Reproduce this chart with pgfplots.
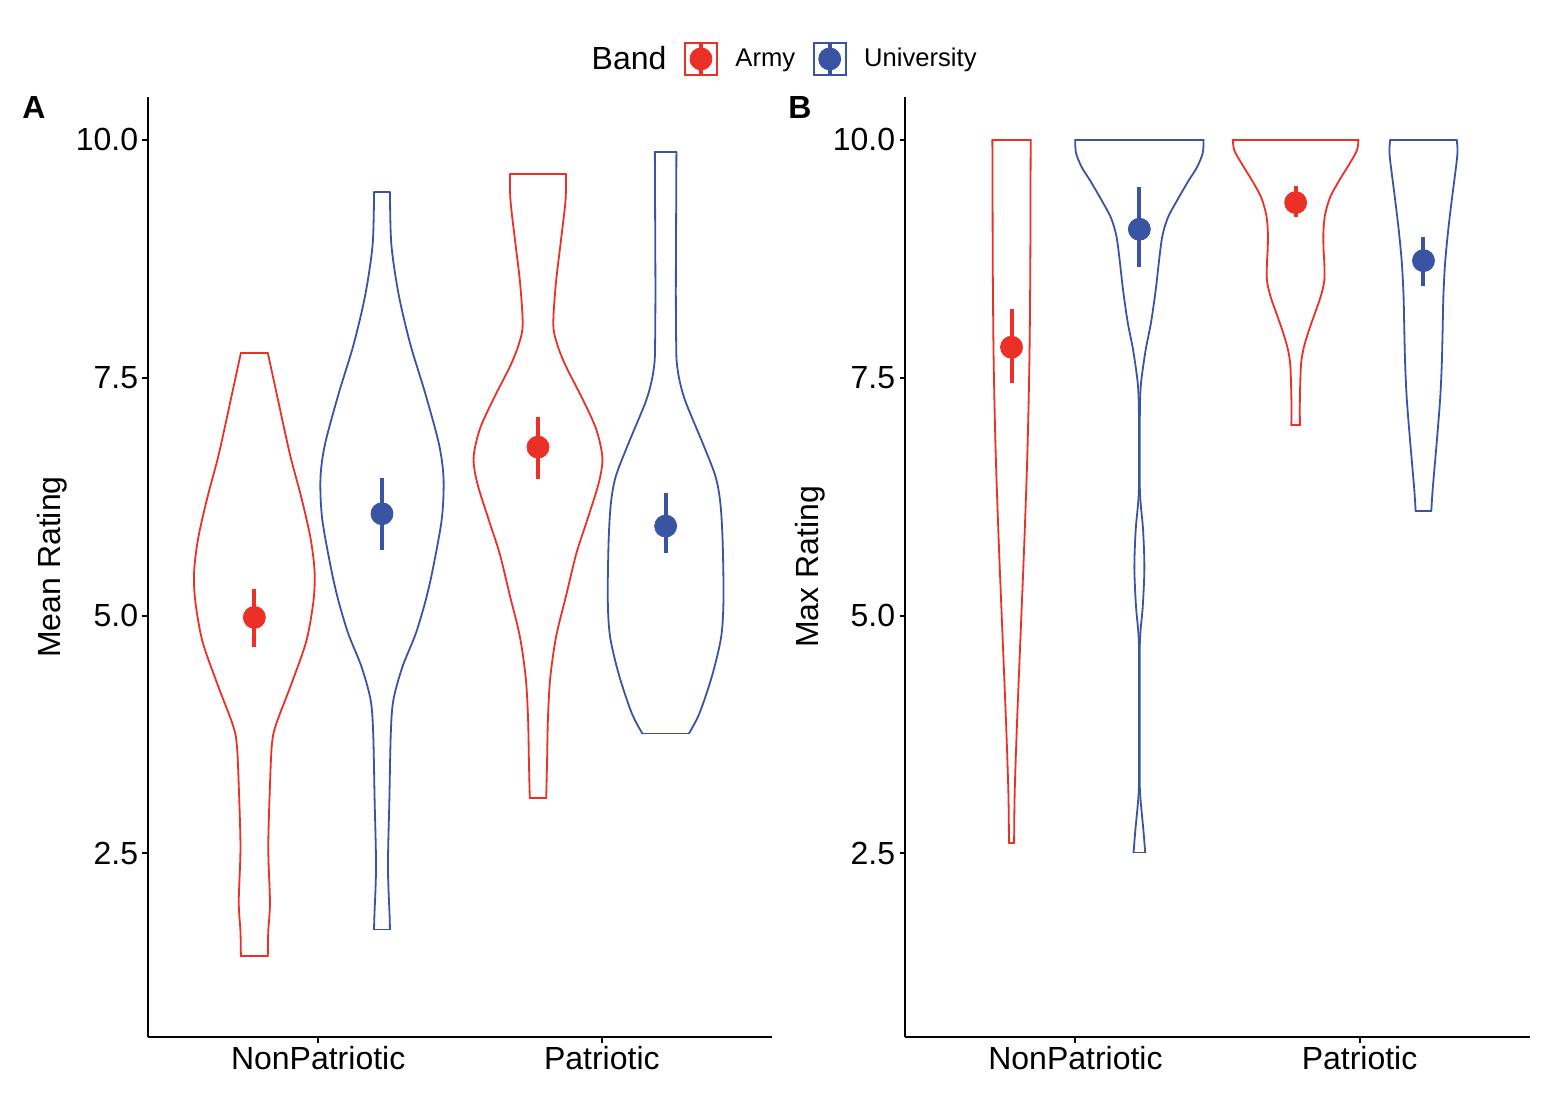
\documentclass[border=0pt]{standalone}
\usepackage{fontspec}
\setmainfont{Liberation Sans}
\usepackage{pgfplots}
\usepackage{pgfplotstable}
\pgfplotsset{compat=1.18}
\definecolor{armyred}{RGB}{235,49,39}
\definecolor{univblue}{RGB}{58,84,164}

% violin outlines: y and half-width w (axis units)
\pgfplotstableread{
y w
1.42 0.0475
1.68 0.049
1.99 0.055
2.56 0.049
3.21 0.055
3.65 0.062
3.86 0.077
4.30 0.133
4.74 0.184
5.17 0.209
5.48 0.212
5.83 0.197
6.26 0.164
6.70 0.125
7.354 0.077
7.76 0.0475
}\vAan
\pgfplotstableread{
y w
1.70 0.028
1.83 0.027
2.36 0.021
3.06 0.026
3.76 0.031
4.11 0.040
4.46 0.072
4.81 0.119
5.16 0.154
5.50 0.180
6.02 0.211
6.44 0.217
6.80 0.201
7.33 0.153
7.85 0.100
8.37 0.059
8.90 0.033
9.45 0.028
}\vAun
\pgfplotstableread{
y w
3.08 0.029
3.47 0.032
3.91 0.035
4.34 0.043
4.78 0.064
5.22 0.100
5.65 0.135
6.00 0.173
6.39 0.214
6.66 0.227
6.96 0.205
7.27 0.158
7.61 0.100
7.83 0.070
8.05 0.054
8.49 0.063
8.92 0.080
9.36 0.097
9.64 0.0986
}\vAap
\pgfplotstableread{
y w
3.76 0.082
3.97 0.119
4.37 0.164
4.78 0.196
5.18 0.204
5.78 0.201
6.18 0.193
6.46 0.176
6.78 0.135
7.18 0.079
7.34 0.060
7.50 0.047
7.64 0.040
7.78 0.0375
8.38 0.036
9.18 0.037
9.87 0.038
}\vAup
\pgfplotstableread{
y w
2.61 0.009
3.125 0.011
3.85 0.019
4.81 0.032
5.77 0.045
6.73 0.056
7.69 0.063
8.65 0.066
9.62 0.067
10.0 0.0675
}\vBan
\pgfplotstableread{
y w
2.51 0.0205
2.75 0.014
3.00 0.006
3.20 0.0015
3.60 0.0015
4.20 0.0015
4.74 0.002
5.10 0.012
5.50 0.0176
5.90 0.013
6.29 0.002
6.80 0.0015
7.20 0.002
7.45 0.006
7.79 0.022
8.08 0.041
8.41 0.057
8.75 0.070
8.99 0.081
9.18 0.100
9.375 0.135
9.57 0.173
9.71 0.2025
9.86 0.223
10.0 0.226
}\vBun
\pgfplotstableread{
y w
7.00 0.015
7.29 0.015
7.64 0.019
7.82 0.029
8.00 0.047
8.17 0.067
8.35 0.088
8.52 0.101
8.70 0.101
8.87 0.098
9.05 0.098
9.22 0.104
9.40 0.122
9.57 0.153
9.75 0.190
9.89 0.216
10.0 0.221
}\vBap
\pgfplotstableread{
y w
6.10 0.0275
6.31 0.032
6.59 0.040
6.94 0.050
7.29 0.059
7.64 0.0645
8.00 0.0675
8.35 0.070
8.70 0.076
9.05 0.087
9.40 0.101
9.75 0.116
9.89 0.120
10.0 0.117
}\vBup

\pgfplotsset{
  panel/.style={
    scale only axis, width=312pt, height=470pt,
    xmin=0.4, xmax=2.6, ymin=0.57, ymax=10.45,
    axis lines=left, axis line style={-, line width=1pt, black},
    xtick={1,2}, xticklabels={NonPatriotic,Patriotic},
    ytick={2.5,5,7.5,10},
    /pgf/number format/assume math mode=true,
    yticklabel style={/pgf/number format/fixed, /pgf/number format/fixed zerofill, /pgf/number format/precision=1, inner sep=2pt},
    xticklabel style={inner sep=1.5pt},
    tick align=outside, major tick length=2.75pt,
    tick style={line width=1pt, black},
    ticklabel style={font=\fontsize{16}{19}\selectfont, black},
    label style={font=\fontsize{16}{19}\selectfont},
    clip=false,
  },
  vio/.style={line width=0.9pt, line cap=round, line join=round, smooth, mark=none},
  mn/.style={only marks, mark=*, mark size=5.5pt,
    error bars/.cd, y dir=both, y explicit, error mark=none,
    error bar style={line width=2pt}},
}

\newcommand{\violin}[3]{%
  \addplot[#1, vio] table[x expr={#2+\thisrow{w}}, y=y] {#3};
  \addplot[#1, vio] table[x expr={#2-\thisrow{w}}, y=y] {#3};
}

\begin{document}
\begin{tikzpicture}
\path[use as bounding box] (-74pt,-31.5pt) rectangle (707pt,518.5pt);

% ---------------- Panel A ----------------
\begin{axis}[panel,
  ylabel={Mean Rating},
  ylabel style={at={(axis description cs:-0.154,0.5)}, anchor=center},
  legend columns=-1,
  legend style={draw=none, fill=none, at={(axis description cs:1.3285,1.0405)}, anchor=east,
    inner sep=0pt, font=\fontsize{12.8}{15}\selectfont,
    nodes={inner sep=0pt},
    /tikz/every odd column/.style={column sep=8.8pt},
    /tikz/every even column/.style={column sep=8.8pt}},
]
\addlegendimage{empty legend}
\addlegendentry{\fontsize{16}{19}\selectfont Band}
\addlegendimage{legend image code/.code={
  \draw[armyred, line width=0.9pt, fill=white] (0pt,-8pt) rectangle (16pt,8pt);
  \draw[armyred, line width=2pt] (8pt,-7.5pt) -- (8pt,7.5pt);
  \fill[armyred] (8pt,0pt) circle (5.5pt);}}
\addlegendentry{Army}
\addlegendimage{legend image code/.code={
  \draw[univblue, line width=0.9pt, fill=white] (0pt,-8pt) rectangle (16pt,8pt);
  \draw[univblue, line width=2pt] (8pt,-7.5pt) -- (8pt,7.5pt);
  \fill[univblue] (8pt,0pt) circle (5.5pt);}}
\addlegendentry{University}

\violin{armyred}{0.775}{\vAan}
\addplot[armyred, vio, forget plot] coordinates {(0.7275,1.42) (0.8225,1.42)};
\addplot[armyred, vio, forget plot] coordinates {(0.7275,7.76) (0.8225,7.76)};
\violin{univblue}{1.225}{\vAun}
\addplot[univblue, vio, forget plot] coordinates {(1.197,1.70) (1.253,1.70)};
\addplot[univblue, vio, forget plot] coordinates {(1.197,9.45) (1.253,9.45)};
\violin{armyred}{1.775}{\vAap}
\addplot[armyred, vio, forget plot] coordinates {(1.746,3.08) (1.804,3.08)};
\addplot[armyred, vio, forget plot] coordinates {(1.6764,9.64) (1.8736,9.64)};
\violin{univblue}{2.225}{\vAup}
\addplot[univblue, vio, forget plot] coordinates {(2.143,3.76) (2.307,3.76)};
\addplot[univblue, vio, forget plot] coordinates {(2.187,9.87) (2.263,9.87)};

\addplot[armyred, mn, error bar style={armyred}] coordinates {
  (0.775,4.98) += (0,0.30) -= (0,0.31)
  (1.775,6.77) += (0,0.32) -= (0,0.33)};
\addplot[univblue, mn, error bar style={univblue}] coordinates {
  (1.225,6.07) += (0,0.38) -= (0,0.38)
  (2.225,5.94) += (0,0.35) -= (0,0.28)};

\node[anchor=base west, inner sep=0pt, font=\fontsize{16}{19}\selectfont\bfseries] at (axis description cs:-0.2019,0.9771) {A};
\end{axis}

% ---------------- Panel B ----------------
\begin{axis}[panel, at={(378.5pt,0pt)}, width=312.5pt,
  ylabel={Max Rating},
  ylabel style={at={(axis description cs:-0.152,0.5)}, anchor=center},
]
\violin{armyred}{0.775}{\vBan}
\addplot[armyred, vio] coordinates {(0.766,2.61) (0.784,2.61)};
\addplot[armyred, vio] coordinates {(0.7075,10.0) (0.8425,10.0)};
\violin{univblue}{1.225}{\vBun}
\addplot[univblue, vio] coordinates {(1.2045,2.51) (1.2455,2.51)};
\addplot[univblue, vio] coordinates {(0.999,10.0) (1.451,10.0)};
\violin{armyred}{1.775}{\vBap}
\addplot[armyred, vio] coordinates {(1.760,7.0) (1.790,7.0)};
\addplot[armyred, vio] coordinates {(1.554,10.0) (1.996,10.0)};
\violin{univblue}{2.225}{\vBup}
\addplot[univblue, vio] coordinates {(2.1975,6.10) (2.2525,6.10)};
\addplot[univblue, vio] coordinates {(2.108,10.0) (2.342,10.0)};

\addplot[armyred, mn, error bar style={armyred}] coordinates {
  (0.775,7.82) += (0,0.40) -= (0,0.38)
  (1.775,9.34) += (0,0.17) -= (0,0.15)};
\addplot[univblue, mn, error bar style={univblue}] coordinates {
  (1.225,9.06) += (0,0.44) -= (0,0.40)
  (2.225,8.73) += (0,0.25) -= (0,0.27)};

\node[anchor=base west, inner sep=0pt, font=\fontsize{16}{19}\selectfont\bfseries] at (axis description cs:-0.1872,0.9771) {B};
\end{axis}
\end{tikzpicture}
\end{document}
